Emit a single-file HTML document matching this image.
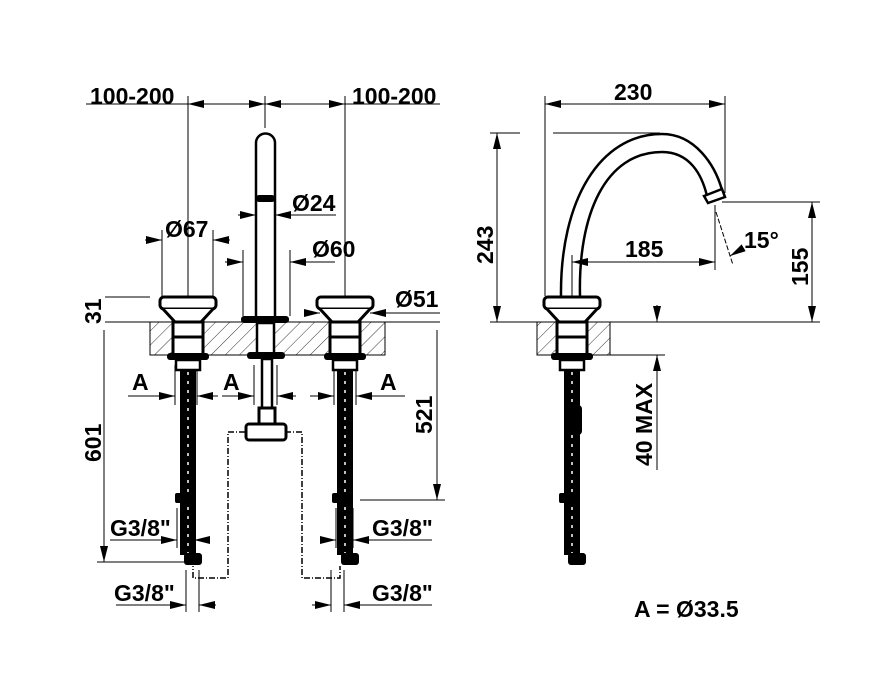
<!DOCTYPE html>
<html><head><meta charset="utf-8"><style>
html,body{margin:0;padding:0;background:#fff;width:886px;height:693px;overflow:hidden}
svg text{font-family:"Liberation Sans",Arial,sans-serif;font-weight:bold;font-size:23px;fill:#000}
</style></head><body>
<svg width="886" height="693" viewBox="0 0 886 693" xmlns="http://www.w3.org/2000/svg">
<defs>
<marker id="a" viewBox="0 0 16 8" refX="16" refY="4" markerWidth="16" markerHeight="8" markerUnits="userSpaceOnUse" orient="auto-start-reverse"><path d="M0,0L16,4L0,8z" fill="#000"/></marker>
<pattern id="h" width="10" height="10" patternUnits="userSpaceOnUse" patternTransform="rotate(45)"><line x1="0" y1="0" x2="0" y2="10" stroke="#000" stroke-width="0.8"/></pattern>
</defs>
<g stroke="#000" stroke-width="1" fill="none">
<line x1="86" y1="104" x2="440" y2="104"/>
<line x1="188" y1="104" x2="265" y2="104" marker-start="url(#a)" marker-end="url(#a)"/>
<line x1="265" y1="104" x2="345" y2="104" marker-start="url(#a)" marker-end="url(#a)"/>
<line x1="188" y1="96" x2="188" y2="296"/>
<line x1="265" y1="96" x2="265" y2="128"/>
<line x1="345" y1="96" x2="345" y2="296"/>
<line x1="105" y1="322" x2="440" y2="322"/>
<line x1="105" y1="297" x2="150" y2="297"/>
<line x1="145" y1="240" x2="162" y2="240" marker-end="url(#a)"/>
<line x1="230" y1="240" x2="213" y2="240" marker-end="url(#a)"/>
<line x1="162" y1="230" x2="162" y2="296"/><line x1="213" y1="230" x2="213" y2="296"/>
<line x1="238" y1="215" x2="256" y2="215" marker-end="url(#a)"/>
<line x1="336" y1="215" x2="275" y2="215" marker-end="url(#a)"/>
<line x1="225" y1="262" x2="243" y2="262" marker-end="url(#a)"/>
<line x1="335" y1="262" x2="290" y2="262" marker-end="url(#a)"/>
<line x1="243" y1="250" x2="243" y2="316"/><line x1="290" y1="250" x2="290" y2="316"/>
<line x1="305" y1="313" x2="320" y2="313" marker-end="url(#a)"/>
<line x1="440" y1="313" x2="370" y2="313" marker-end="url(#a)"/>
<line x1="104" y1="330" x2="104" y2="562" marker-end="url(#a)"/>
<line x1="97" y1="562" x2="190" y2="562"/>
<line x1="437" y1="330" x2="437" y2="500" marker-end="url(#a)"/>
<line x1="360" y1="500" x2="445" y2="500"/>
<line x1="128" y1="396" x2="175" y2="396" marker-end="url(#a)"/>
<line x1="218" y1="396" x2="197" y2="396" marker-end="url(#a)"/>
<line x1="222" y1="396" x2="254" y2="396" marker-end="url(#a)"/>
<line x1="296" y1="396" x2="277" y2="396" marker-end="url(#a)"/>
<line x1="310" y1="396" x2="334" y2="396" marker-end="url(#a)"/>
<line x1="405" y1="396" x2="356" y2="396" marker-end="url(#a)"/>
<line x1="175" y1="365" x2="175" y2="405"/><line x1="197" y1="365" x2="197" y2="405"/>
<line x1="254" y1="365" x2="254" y2="405"/><line x1="277" y1="365" x2="277" y2="405"/>
<line x1="334" y1="365" x2="334" y2="405"/><line x1="356" y1="365" x2="356" y2="405"/>
<line x1="110" y1="540" x2="177" y2="540" marker-end="url(#a)"/><line x1="208" y1="540" x2="194" y2="540" marker-end="url(#a)"/>
<line x1="177" y1="508" x2="177" y2="548"/><line x1="194" y1="508" x2="194" y2="548"/>
<line x1="322" y1="540" x2="336" y2="540" marker-end="url(#a)"/><line x1="432" y1="540" x2="353" y2="540" marker-end="url(#a)"/>
<line x1="353" y1="508" x2="353" y2="548"/><line x1="336" y1="508" x2="336" y2="548"/>
<line x1="116" y1="605" x2="186" y2="605" marker-end="url(#a)"/><line x1="216" y1="605" x2="199" y2="605" marker-end="url(#a)"/>
<line x1="186" y1="570" x2="186" y2="612"/><line x1="199" y1="570" x2="199" y2="612"/>
<line x1="312" y1="605" x2="331" y2="605" marker-end="url(#a)"/><line x1="432" y1="605" x2="344" y2="605" marker-end="url(#a)"/>
<line x1="331" y1="570" x2="331" y2="612"/><line x1="344" y1="570" x2="344" y2="612"/>
<path d="M245,432H228V578H193V566" stroke-dasharray="6,2,1,2" stroke-width="1.5"/>
<path d="M285,432H302V578H340V566" stroke-dasharray="6,2,1,2" stroke-width="1.5"/>
</g>
<rect x="150" y="322" width="235" height="33" fill="url(#h)" stroke="#000"/>
<rect x="537" y="322" width="73" height="33" fill="url(#h)" stroke="#000"/>
<g id="valve">
<rect x="160" y="297" width="56" height="12" rx="4" fill="#fff" stroke="#000" stroke-width="3"/>
<path d="M163,309 L175,322 H201 L213,309" fill="#fff" stroke="#000" stroke-width="3"/>
<rect x="173" y="322" width="30" height="33" fill="#fff" stroke="#000" stroke-width="3"/>
<line x1="173" y1="337" x2="203" y2="337" stroke="#000" stroke-width="3"/>
<rect x="167" y="353" width="42" height="7" rx="3" fill="#000"/>
<rect x="176" y="360" width="24" height="10" fill="#fff" stroke="#000" stroke-width="2.5"/>
<rect x="180" y="370" width="16" height="185" fill="#000"/>
<line x1="188" y1="372" x2="188" y2="555" stroke="#fff" stroke-width="1.5" stroke-dasharray="3,6"/>
<rect x="175" y="493" width="16" height="10" rx="2" fill="#000"/>
<rect x="184" y="553" width="18" height="12" rx="3" fill="#000"/>
</g>
<use href="#valve" transform="translate(157,0)"/>
<use href="#valve" transform="translate(384,0)"/>
<path d="M256,318V143a9.5,9.5 0 0 1 19,0V318" fill="#fff" stroke="#000" stroke-width="2.5"/>
<rect x="256" y="195" width="19" height="7" rx="3" fill="#000"/>
<rect x="241" y="316" width="48" height="7" rx="3" fill="#000"/>
<rect x="257" y="323" width="17" height="32" fill="#fff" stroke="#000" stroke-width="2.5"/>
<rect x="247" y="352" width="38" height="7" rx="3" fill="#000"/>
<rect x="262" y="359" width="10" height="50" fill="#fff" stroke="#000" stroke-width="2.5"/>
<rect x="259" y="408" width="16" height="16" fill="#fff" stroke="#000" stroke-width="3"/>
<rect x="246" y="424" width="40" height="16" rx="3" fill="#fff" stroke="#000" stroke-width="3"/>
<g fill="none" stroke="#000" stroke-width="2.5">
<path d="M561,296 C560,200 600,134 662,134 C695,134 715,165 722,190"/>
<path d="M580,296 C578,215 605,152 662,152 C690,152 702,175 707,196"/>
</g>
<path d="M704,196 L722,189 L725,197 L708,203 Z" fill="#fff" stroke="#000" stroke-width="2.5"/>
<g stroke="#000" stroke-width="1" fill="none">
<line x1="545" y1="96" x2="545" y2="296"/>
<line x1="725" y1="96" x2="725" y2="193"/>
<line x1="545" y1="104" x2="725" y2="104" marker-start="url(#a)" marker-end="url(#a)"/>
<line x1="490" y1="133" x2="520" y2="133"/><line x1="553" y1="133" x2="660" y2="133"/>
<line x1="497" y1="133" x2="497" y2="322" marker-start="url(#a)" marker-end="url(#a)"/>
<line x1="490" y1="322" x2="537" y2="322"/><line x1="610" y1="322" x2="820" y2="322"/>
<line x1="722" y1="202" x2="820" y2="202"/>
<line x1="812" y1="202" x2="812" y2="322" marker-start="url(#a)" marker-end="url(#a)"/>
<line x1="572" y1="262" x2="715" y2="262" marker-start="url(#a)" marker-end="url(#a)"/>
<line x1="572" y1="255" x2="572" y2="296"/>
<line x1="715" y1="205" x2="715" y2="270"/>
<line x1="716" y1="212" x2="733" y2="265" stroke-dasharray="5,2"/>
<line x1="740" y1="250" x2="730" y2="256" marker-end="url(#a)"/>
<line x1="657" y1="305" x2="657" y2="322" marker-end="url(#a)"/>
<line x1="657" y1="470" x2="657" y2="355" marker-end="url(#a)"/>
<line x1="610" y1="355" x2="665" y2="355"/>
</g>
<rect x="564" y="405" width="18" height="30" rx="4" fill="#000"/>
<text x="90" y="104">100-200</text>
<text x="352" y="104">100-200</text>
<text x="165" y="237">Ø67</text>
<text x="292" y="211">Ø24</text>
<text x="312" y="257">Ø60</text>
<text x="395" y="307">Ø51</text>
<text transform="translate(101,324) rotate(-90)">31</text>
<text transform="translate(101,462) rotate(-90)">601</text>
<text transform="translate(432,434) rotate(-90)">521</text>
<text x="132" y="390">A</text>
<text x="223" y="390">A</text>
<text x="380" y="390">A</text>
<text x="110" y="536">G3/8"</text>
<text x="372" y="536">G3/8"</text>
<text x="114" y="601">G3/8"</text>
<text x="372" y="601">G3/8"</text>
<text x="614" y="100">230</text>
<text transform="translate(493,264) rotate(-90)">243</text>
<text transform="translate(808,286) rotate(-90)">155</text>
<text x="625" y="257">185</text>
<text x="744" y="248">15°</text>
<text transform="translate(652,466) rotate(-90)">40 MAX</text>
<text x="634" y="617">A = Ø33.5</text>
</svg>
</body></html>
